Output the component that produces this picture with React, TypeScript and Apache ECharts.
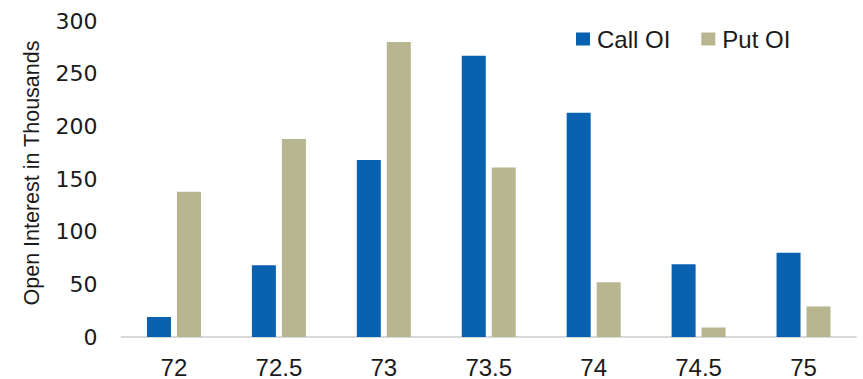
import React, { useEffect, useRef } from "react";
import * as echarts from "echarts";

const strikes = ["72", "72.5", "73", "73.5", "74", "74.5", "75"];
const callOI = [19, 68, 168, 267, 213, 69, 80];
const putOI = [138, 188, 280, 161, 52, 9, 29];
const yTicks = { min: 0, max: 300, interval: 50 };
const seriesNames = ["Call OI", "Put OI"];
const yTitle = "Open Interest in Thousands";

const FONT = "'Liberation Sans', Arial, Helvetica, sans-serif";
const WIDE = "'DejaVu Sans', sans-serif";

export default function App() {
  const ref = useRef<HTMLDivElement>(null);
  useEffect(() => {
    if (!ref.current) return;
    const chart = echarts.init(ref.current, null, { renderer: "svg" });
    chart.setOption({
      animation: false,
      backgroundColor: "#ffffff",
      textStyle: { fontFamily: FONT },
      grid: { left: 121.5, right: 7, top: 21, bottom: 42, containLabel: false },
      legend: {
        left: 576,
        top: 27,
        padding: 0,
        itemWidth: 14,
        itemHeight: 13,
        itemGap: 31,
        icon: "rect",
        textStyle: { fontSize: 24, color: "#1a1a1a", fontFamily: FONT, padding: [0, 0, 0, 2] },
        data: seriesNames,
      },
      xAxis: {
        type: "category",
        data: strikes,
        axisLine: { show: true, lineStyle: { color: "#d9d9d9", width: 2 } },
        axisTick: { show: false },
        axisLabel: { fontSize: 24, color: "#1a1a1a", margin: 18, fontFamily: FONT },
      },
      yAxis: {
        type: "value",
        min: yTicks.min,
        max: yTicks.max,
        interval: yTicks.interval,
        splitLine: { show: false },
        axisLine: { show: false },
        axisTick: { show: false },
        axisLabel: { fontSize: 22, color: "#1a1a1a", margin: 24, fontFamily: WIDE },
      },
      graphic: [
        {
          type: "text",
          x: 32,
          y: 173,
          rotation: Math.PI / 2,
          style: {
            text: yTitle,
            fontSize: 21.5,
            fontFamily: FONT,
            fill: "#1a1a1a",
            align: "center",
            verticalAlign: "middle",
          },
        },
      ],
      series: [
        {
          name: seriesNames[0],
          type: "bar",
          data: callOI,
          barWidth: 24,
          barGap: "25%",
          itemStyle: { color: "#0961b0" },
        },
        {
          name: seriesNames[1],
          type: "bar",
          data: putOI,
          barWidth: 24,
          barGap: "25%",
          itemStyle: { color: "#b8b690" },
        },
      ],
    });
    return () => chart.dispose();
  }, []);
  return (
    <div
      ref={ref}
      style={{ position: "fixed", left: 0, top: 0, width: 863, height: 379 }}
    />
  );
}
